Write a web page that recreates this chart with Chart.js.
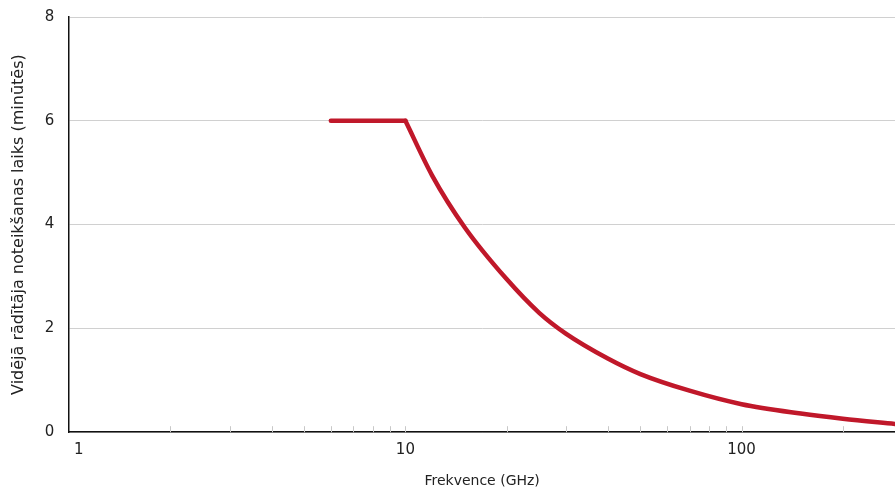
<!DOCTYPE html>
<html>
<head>
<meta charset="utf-8">
<script src="https://cdn.jsdelivr.net/npm/chart.js@4/dist/chart.umd.min.js"></script>
<style>
  body { margin: 0; background: #fff; }
  canvas { display: block; }
</style>
</head>
<body>
<canvas id="grafica" width="895" height="490"></canvas>
<script>
// Datos
const frecPlano = [6, 10];
const tiempoPlano = [6, 6];

const frecCurva = [10, 12, 15, 20, 25, 30, 40, 50, 70, 100, 150, 200, 286];
const tiempoCurva = [6, 4.95, 3.95, 2.95, 2.3, 1.9, 1.42, 1.12, 0.8, 0.54, 0.36, 0.26, 0.16];

const etiquetasX = [1, 10, 100];
const marcasMenores = [2, 3, 4, 5, 6, 7, 8, 9, 10, 20, 30, 40, 50, 60, 70, 80, 90, 100, 200];
const ticksY = [0, 2, 4, 6, 8];

const rojo = "#c0182a";
const fuente = "'DejaVu Sans', sans-serif";

// Marcas pequeñas sobre el eje x (hacia dentro)
const marcasPlugin = {
    id: "marcasMenores",
    beforeDatasetsDraw(chart) {
        const ctx = chart.ctx;
        const x = chart.scales.x;
        const base = chart.chartArea.bottom;
        ctx.save();
        ctx.strokeStyle = "#c8c8c8";
        ctx.lineWidth = 1;
        marcasMenores.forEach(v => {
            const px = Math.round(x.getPixelForValue(v)) + 0.5;
            ctx.beginPath();
            ctx.moveTo(px, base);
            ctx.lineTo(px, base - 6);
            ctx.stroke();
        });
        ctx.restore();
    }
};

const ctx = document.getElementById("grafica").getContext("2d");

new Chart(ctx, {
    type: "line",
    data: {
        datasets: [
            {
                data: frecPlano.map((f, i) => ({ x: f, y: tiempoPlano[i] })),
                borderColor: rojo,
                borderWidth: 4.5,
                borderCapStyle: "round",
                pointRadius: 0,
                fill: false
            },
            {
                data: frecCurva.map((f, i) => ({ x: f, y: tiempoCurva[i] })),
                borderColor: rojo,
                borderWidth: 4.5,
                borderCapStyle: "round",
                cubicInterpolationMode: "monotone",
                pointRadius: 0,
                fill: false
            }
        ]
    },
    options: {
        responsive: false,
        animation: false,
        layout: { padding: { top: 17, left: 9.5, right: 0, bottom: 0 } },
        plugins: {
            legend: { display: false },
            tooltip: { enabled: false }
        },
        scales: {
            x: {
                type: "logarithmic",
                min: 1,
                max: 286,
                afterBuildTicks: (scale) => {
                    scale.ticks = etiquetasX.map(v => ({ value: v }));
                },
                grid: { display: false, drawTicks: false },
                border: { color: "#111", width: 1.5 },
                ticks: {
                    autoSkip: false,
                    maxRotation: 0,
                    padding: 9,
                    color: "#222",
                    font: { family: fuente, size: 15 },
                    callback: (v) => v === 1 ? "    1" : String(v)
                },
                title: {
                    display: true,
                    text: "Frekvence (GHz)",
                    color: "#222",
                    font: { family: fuente, size: 14 },
                    padding: { top: 5, bottom: 0 }
                }
            },
            y: {
                min: 0,
                max: 8,
                afterBuildTicks: (scale) => {
                    scale.ticks = ticksY.map(v => ({ value: v }));
                },
                afterFit: (scale) => {
                    scale.paddingTop = 0;
                    scale.paddingBottom = 0;
                },
                grid: { color: "#d0d0d0", lineWidth: 1, drawTicks: false },
                border: { color: "#111", width: 1.5 },
                ticks: {
                    padding: 15,
                    color: "#222",
                    font: { family: fuente, size: 15 }
                },
                title: {
                    display: true,
                    text: "Vidējā rādītāja noteikšanas laiks (minūtēs)",
                    color: "#222",
                    font: { family: fuente, size: 16 },
                    padding: { top: 0, bottom: 1 }
                }
            }
        }
    },
    plugins: [marcasPlugin]
});
</script>
</body>
</html>
